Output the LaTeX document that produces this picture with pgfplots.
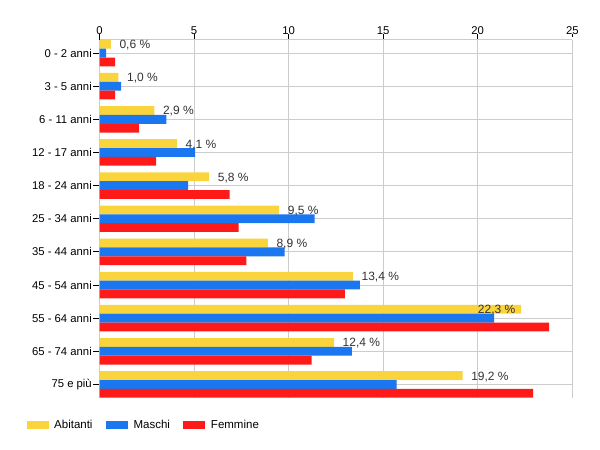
\documentclass[border=0pt]{standalone}
\usepackage{pgfplots}
\pgfplotsset{compat=1.18}
\usepackage{fontspec}
\setmainfont{Liberation Sans}
\definecolor{cAb}{HTML}{F9D43C}
\definecolor{cMa}{HTML}{1A77F0}
\definecolor{cFe}{HTML}{FF1A1A}
\definecolor{cGrid}{HTML}{CCCCCC}
\definecolor{cLab}{HTML}{333333}
\pgfplotsset{legsq/.style={legend image code/.code={\fill[##1] (0bp,-4bp) rectangle (22bp,4bp);}}}
\begin{document}
\begin{tikzpicture}
\path[use as bounding box] (0bp,0bp) rectangle (600bp,-450bp);
\begin{axis}[
  at={(99.5bp,-39.5bp)}, anchor=north west,
  scale only axis, width=472.8bp, height=358.5bp,
  xbar, bar width=8.83bp,
  xmin=0, xmax=25, ymin=-0.41, ymax=10.41,
  axis x line=top, axis y line=left,
  axis line style={draw=cGrid, line width=1bp, -},
  xtick={0,5,10,15,20,25},
  ytick={0,1,2,3,4,5,6,7,8,9,10},
  yticklabels={75 e più,65 - 74 anni,55 - 64 anni,45 - 54 anni,35 - 44 anni,25 - 34 anni,18 - 24 anni,12 - 17 anni,6 - 11 anni,3 - 5 anni,0 - 2 anni},
  xmajorgrids, ymajorgrids,
  major grid style={draw=cGrid, line width=1bp},
  tick align=outside, major tick length=6bp,
  tick style={black, line width=1bp},
  xtick style={shorten >=3bp},
  /pgf/number format/assume math mode=true,
  ticklabel style={font=\fontsize{11.3bp}{13bp}\selectfont, text=black},
  xticklabel style={yshift=-4.5bp},
  yticklabel style={xshift=1.8bp},
  legend style={at={(0,0)}, anchor=west, xshift=-72.8bp, yshift=-27bp,
    draw=none, fill=none, inner sep=0pt, outer sep=0pt,
    font=\fontsize{11.5bp}{13bp}\selectfont,
    nodes={inner sep=0pt, text=black},
    /tikz/every odd column/.append style={column sep=5.5bp},
    /tikz/every even column/.append style={column sep=13.5bp}},
  legend columns=3,
  legend cell align=left,
]
\addplot[fill=cAb, draw=none, bar shift=8.83bp, legsq,
  nodes near coords={\pgfmathprintnumber[fixed,fixed zerofill,precision=1,use comma]{\pgfplotspointmeta}\ \%},
  every node near coord/.append style={anchor=west, inner sep=0pt, xshift=8.5bp, yshift=-1bp, font=\fontsize{12bp}{14bp}\selectfont, text=cLab},
  coordinate style/.condition={\coordindex==8}{xshift=-52bp},
] coordinates {
(0.6,10) (1.0,9) (2.9,8) (4.1,7) (5.8,6) (9.5,5) (8.9,4) (13.4,3) (22.3,2) (12.4,1) (19.2,0)
};
\addlegendentry{Abitanti}
\addplot[fill=cMa, draw=none, bar shift=0bp, legsq] coordinates {
(0.35,10) (1.15,9) (3.53,8) (5.06,7) (4.69,6) (11.37,5) (9.79,4) (13.77,3) (20.86,2) (13.34,1) (15.71,0)
};
\addlegendentry{Maschi}
\addplot[fill=cFe, draw=none, bar shift=-8.83bp, legsq] coordinates {
(0.83,10) (0.83,9) (2.10,8) (3.00,7) (6.88,6) (7.36,5) (7.77,4) (12.98,3) (23.78,2) (11.21,1) (22.93,0)
};
\addlegendentry{Femmine}
\end{axis}
\end{tikzpicture}
\end{document}
